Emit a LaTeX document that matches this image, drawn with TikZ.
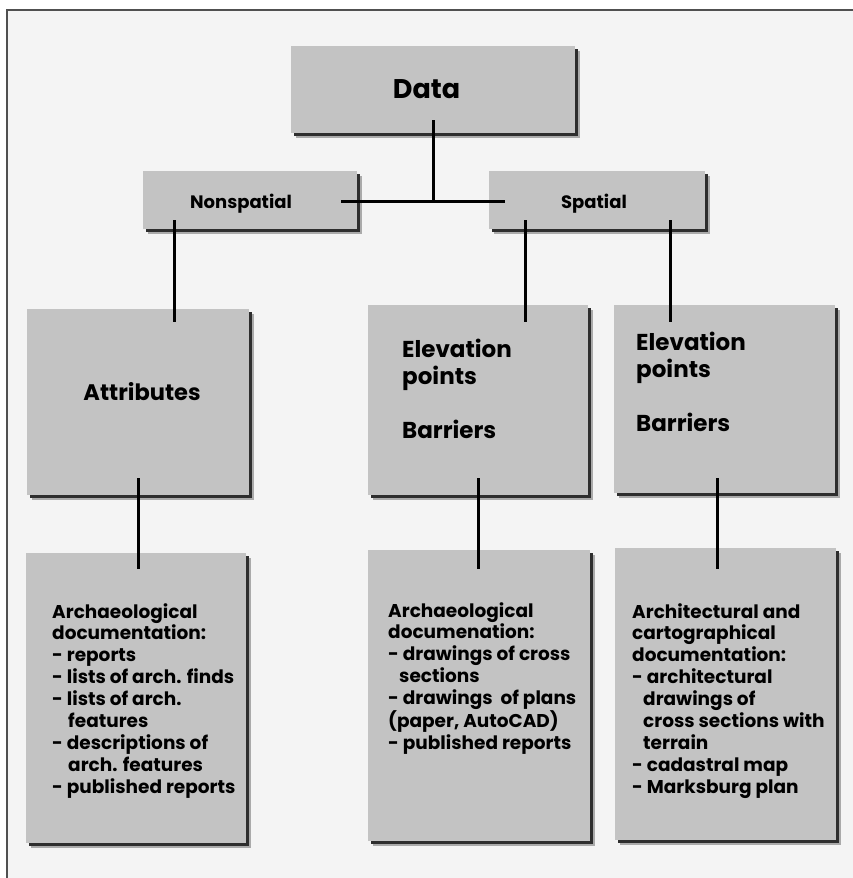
\documentclass[tikz,border=0pt]{standalone}
\usepackage{fontspec}
\setmainfont{Poppins}
\usetikzlibrary{calc,shadows}
\definecolor{bgc}{HTML}{F4F4F4}
\definecolor{boxfill}{HTML}{C3C3C3}
\definecolor{shadec}{HTML}{2E2E2E}
\definecolor{framec}{HTML}{505050}
\begin{document}
\begin{tikzpicture}[x=1pt,y=-1pt,
  box/.style={draw=none, fill=boxfill, inner sep=0pt, outer sep=0pt,
    drop shadow={shadow xshift=4.5pt, shadow yshift=-4.5pt, opacity=0.3, fill=black},
    drop shadow={shadow xshift=3pt, shadow yshift=-3pt, opacity=1, fill=shadec}},
  conn/.style={line width=3pt, black},
  lbl/.style={inner sep=0pt, font=\bfseries\fontsize{18}{22}\selectfont},
  doc/.style={inner sep=0pt, anchor=north west, align=left, font=\bfseries\fontsize{18.5}{21.9}\selectfont},
  elev/.style={inner sep=0pt, anchor=north west, align=left, font=\bfseries\fontsize{23}{26.5}\selectfont}]
\useasboundingbox (0,0) rectangle (853,878);
\fill[white] (0,0) rectangle (853,878);
\fill[bgc] (7,10) rectangle (853,878);
\draw[framec, line width=1.5pt] (7,878) -- (7,10) -- (853,10);

% boxes
\node[box, minimum width=284, minimum height=87] (data) at (433,89.5) {};
\node[box, minimum width=214, minimum height=58] (nonsp) at (250,200) {};
\node[box, minimum width=216, minimum height=58] (spat) at (597,200) {};
\node[box, minimum width=222, minimum height=186] (attr) at (138,402) {};
\node[box, minimum width=220, minimum height=190] (elevA) at (478,400) {};
\node[box, minimum width=221, minimum height=188] (elevB) at (724.5,399) {};
\node[box, minimum width=220, minimum height=290] (docA) at (136,698) {};
\node[box, minimum width=222, minimum height=291] (docB) at (479,695.5) {};
\node[box, minimum width=221, minimum height=292] (docC) at (725.5,694) {};

% texts
\node[inner sep=0pt, anchor=base, font=\bfseries\fontsize{27}{32}\selectfont] (tdata) at (426.5,98) {Data};
\node[lbl, anchor=base] (tnonsp) at (241,208) {Nonspatial};
\node[lbl, anchor=base] (tspat) at (594,208) {Spatial};
\node[inner sep=0pt, anchor=base, font=\bfseries\fontsize{22.5}{27}\selectfont] (tattr) at (142,400) {Attributes};
\node[elev] (televA) at (402,339) {Elevation\\points\\[28pt]Barriers};
\node[elev] (televB) at (636,332) {Elevation\\points\\[28pt]Barriers};
\node[doc] (tdocA) at (52,603) {Archaeological\\documentation:\\- reports\\- lists of arch. finds\\- lists of arch.\\\hspace*{16pt}features\\- descriptions of\\\hspace*{16pt}arch. features\\- published reports};
\node[doc] (tdocB) at (388,602) {Archaeological\\documenation:\\- drawings of cross\\\hspace*{11pt}sections\\- drawings\ \ of plans\\(paper, AutoCAD)\\- published reports};
\node[doc] (tdocC) at (632,603) {Architectural and\\cartographical\\documentation:\\- architectural\\\hspace*{11pt}drawings of\\\hspace*{11pt}cross sections with\\\hspace*{11pt}terrain\\- cadastral map\\- Marksburg plan};

% connectors
\coordinate (j) at ($(data.south)+(0,68)$);
\draw[conn] ($(data.south)+(0,-13)$) -- (j);
\draw[conn] ($(nonsp.east)+(-16,1)$) -- ($(spat.west)+(16,1)$);
\coordinate (n1) at ($(nonsp.south west)+(31,-9)$);
\draw[conn] (n1) -- ($(n1 |- attr.north)+(0,13)$);
\coordinate (s1) at ($(spat.south west)+(36,-9)$);
\draw[conn] (s1) -- ($(s1 |- elevA.north)+(0,17)$);
\coordinate (s2) at ($(spat.south west)+(181,-9)$);
\draw[conn] (s2) -- ($(s2 |- elevB.north)+(0,17)$);
\coordinate (a1) at ($(attr.south)+(0,-17)$);
\draw[conn] (a1) -- ($(a1 |- docA.north)+(0,16)$);
\coordinate (e1) at ($(elevA.south)+(0,-17)$);
\draw[conn] (e1) -- ($(e1 |- docB.north)+(0,19)$);
\coordinate (e2) at ($(elevB.south west)+(103,-15)$);
\draw[conn] (e2) -- ($(e2 |- docC.north)+(0,21)$);
\end{tikzpicture}
\end{document}
